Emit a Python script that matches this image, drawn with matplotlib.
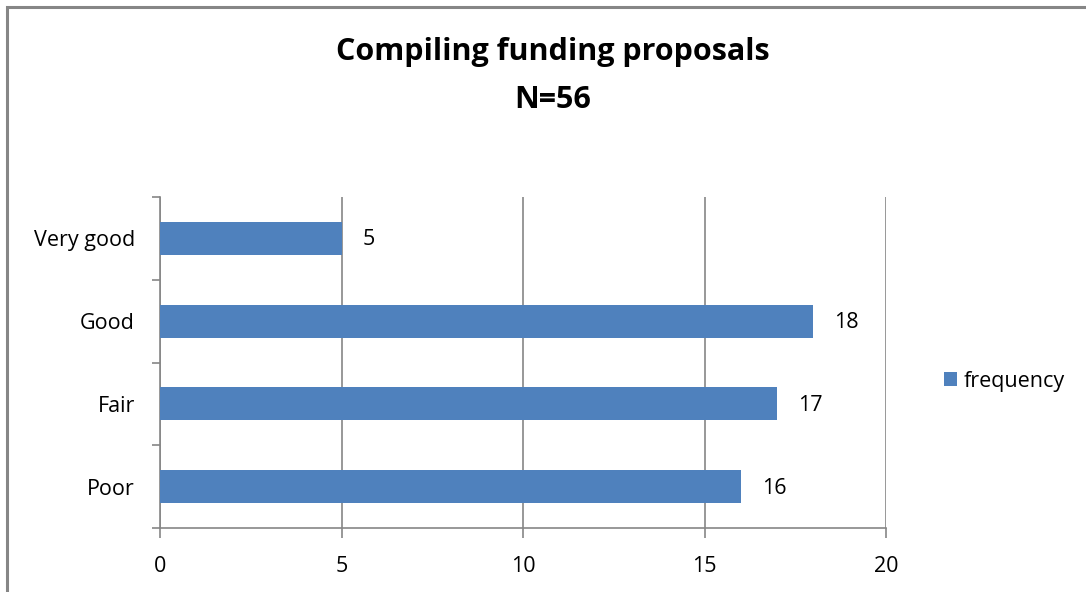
import matplotlib.pyplot as plt
from matplotlib.patches import Rectangle

categories = ["Poor", "Fair", "Good", "Very good"]
frequency = [16, 17, 18, 5]
x_ticks = [0, 5, 10, 15, 20]

plt.rcParams['font.family'] = ['Open Sans', 'DejaVu Sans']

fig = plt.figure(figsize=(10.86, 5.92), dpi=100)
ax = fig.add_axes([160 / 1086, 1 - 528 / 592, 726 / 1086, 331 / 592])

pos = range(len(categories))
bars = ax.barh(pos, frequency, height=0.4, color="#4F81BD", label="frequency", zorder=3)

for b, v in zip(bars, frequency):
    ax.annotate(str(v), (b.get_width(), b.get_y() + b.get_height() / 2),
                xytext=(15, -1), textcoords="offset points", va="center", ha="left", fontsize=15.5)

ax.set_xlim(0, 20)
ax.set_ylim(-0.5, len(categories) - 0.5)
ax.set_xticks(x_ticks)
ax.set_xticklabels([str(t) for t in x_ticks], fontsize=15.5)
ax.set_yticks(list(pos))
ax.set_yticklabels(categories, fontsize=15.5)
ax.set_yticks([i - 0.5 for i in range(len(categories) + 1)], minor=True)

ax.xaxis.grid(True, color="#868686", linewidth=1.2, zorder=0)
for s in ["top", "right"]:
    ax.spines[s].set_visible(False)
for s in ["left", "bottom"]:
    ax.spines[s].set_color("#868686")
    ax.spines[s].set_linewidth(1.2)

ax.tick_params(axis="y", which="major", length=0, pad=18)
ax.tick_params(axis="y", which="minor", length=6, color="#868686", width=1.2)
ax.tick_params(axis="x", length=7, color="#868686", width=1.2, pad=13)

ax.legend(loc="center left", bbox_to_anchor=(1.053, 0.444), frameon=False, fontsize=15.5,
          handlelength=0.6, handleheight=0.6, handletextpad=0.3)

fig.text(0.509, 0.912, "Compiling funding proposals", ha="center", va="center",
         fontsize=22, fontweight="bold")
fig.text(0.509, 0.831, "N=56", ha="center", va="center", fontsize=22, fontweight="bold")

# outer chart border, running off the right and bottom edges
fig.patches.append(Rectangle((7 / 1086, -0.1), 1.2, 1 - 7 / 592 + 0.1, transform=fig.transFigure,
                             fill=False, edgecolor="#868686", linewidth=2.2))

fig.savefig("out.png", dpi=100)
